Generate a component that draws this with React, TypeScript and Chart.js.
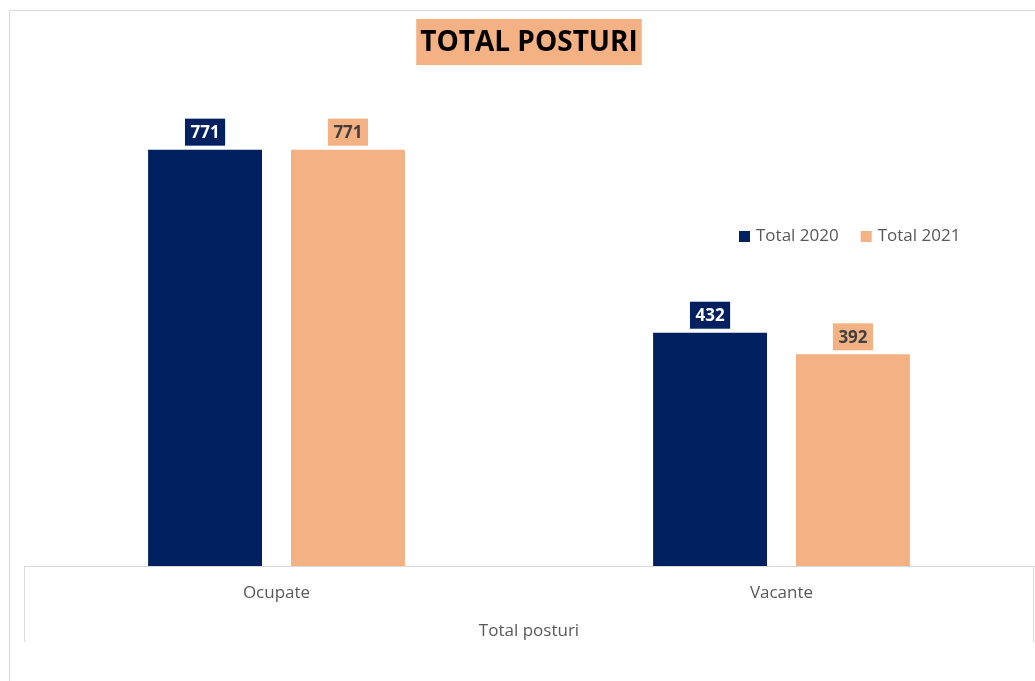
import React, { useEffect, useRef } from "react";
import { Chart, registerables } from "chart.js";

Chart.register(...registerables);

const chartTitle = "TOTAL POSTURI";
const axisTitle = "Total posturi";
const categories = ["Ocupate", "Vacante"];
const seriesNames = ["Total 2020", "Total 2021"];
const total2020 = [771, 432];
const total2021 = [771, 392];

const NAVY = "#002060";
const PEACH = "#F4B183";
const FONT = "'Open Sans', sans-serif";

const overlayPlugin = {
  id: "overlay",
  afterDraw(chart: any) {
    const ctx = chart.ctx;
    const area = chart.chartArea;
    ctx.save();
    // title with background box
    ctx.font = `bold 28px ${FONT}`;
    const tw = ctx.measureText(chartTitle).width;
    const cx = (area.left + area.right) / 2;
    ctx.fillStyle = PEACH;
    ctx.fillRect(cx - tw / 2 - 4, 19, tw + 8, 46);
    ctx.fillStyle = "#000000";
    ctx.textAlign = "center";
    ctx.textBaseline = "middle";
    ctx.fillText(chartTitle, cx, 43);

    // data labels
    chart.data.datasets.forEach((ds: any, di: number) => {
      const meta = chart.getDatasetMeta(di);
      meta.data.forEach((bar: any, i: number) => {
        const txt = String(ds.data[i]);
        ctx.font = `bold 17px ${FONT}`;
        const w = ctx.measureText(txt).width + 11;
        const h = 27;
        const by = bar.y - 4 - h;
        ctx.fillStyle = di === 0 ? NAVY : PEACH;
        ctx.fillRect(bar.x - w / 2, by, w, h);
        ctx.fillStyle = di === 0 ? "#ffffff" : "#404040";
        ctx.textAlign = "center";
        ctx.textBaseline = "middle";
        ctx.fillText(txt, bar.x, by + h / 2 + 1);
      });
    });

    // legend
    ctx.font = `17px ${FONT}`;
    ctx.textAlign = "left";
    ctx.textBaseline = "middle";
    let lx = 739;
    const ly = 236;
    chart.data.datasets.forEach((ds: any) => {
      ctx.fillStyle = ds.backgroundColor;
      ctx.fillRect(lx, ly - 5, 11, 11);
      ctx.fillStyle = "#595959";
      ctx.fillText(ds.label, lx + 17, ly);
      lx += 17 + ctx.measureText(ds.label).width + 22;
    });

    // axis box lines
    ctx.strokeStyle = "#d9d9d9";
    ctx.lineWidth = 1;
    ctx.beginPath();
    ctx.moveTo(area.left + 0.5, area.bottom);
    ctx.lineTo(area.left + 0.5, 642);
    ctx.moveTo(area.right - 0.5, area.bottom);
    ctx.lineTo(area.right - 0.5, 642);
    ctx.stroke();
    ctx.restore();
  },
};

export default function App() {
  const ref = useRef<HTMLCanvasElement | null>(null);
  useEffect(() => {
    if (!ref.current) return;
    const chart = new Chart(ref.current, {
      type: "bar",
      data: {
        labels: categories,
        datasets: [
          { label: seriesNames[0], data: total2020, backgroundColor: NAVY },
          { label: seriesNames[1], data: total2021, backgroundColor: PEACH },
        ],
      },
      options: {
        responsive: false,
        animation: false,
        layout: { padding: { left: 24, right: 1, top: 80, bottom: 0 } },
        datasets: {
          bar: { categoryPercentage: 0.566, barPercentage: 0.797 },
        },
        plugins: {
          legend: { display: false },
          title: { display: false },
          tooltip: { enabled: false },
        },
        scales: {
          y: { display: false, min: 0, max: 900 },
          x: {
            grid: { display: false },
            border: { display: true, color: "#d9d9d9" },
            ticks: { color: "#595959", font: { family: FONT, size: 17 }, padding: 9 },
            title: {
              display: true,
              text: axisTitle,
              color: "#595959",
              font: { family: FONT, size: 17 },
              padding: { top: 0, bottom: 40 },
            },
            afterFit(scale: any) {
              scale.height = 115;
            },
          },
        },
      },
      plugins: [overlayPlugin],
    });
    return () => chart.destroy();
  }, []);
  return (
    <div style={{ position: "fixed", left: 0, top: 0, width: 1035, height: 681, background: "#fff" }}>
      <div
        style={{
          position: "absolute",
          left: 9,
          top: 10,
          right: 0,
          bottom: 0,
          borderTop: "1px solid #d9d9d9",
          borderLeft: "1px solid #d9d9d9",
        }}
      />
      <canvas ref={ref} width={1035} height={681} style={{ position: "absolute", left: 0, top: 0 }} />
    </div>
  );
}
